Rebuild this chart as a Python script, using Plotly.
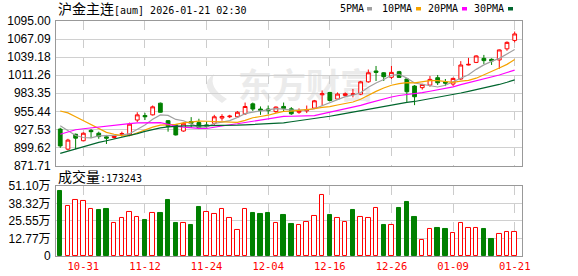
import plotly.graph_objects as go

dates = ["2025-10-28", "2025-10-29", "2025-10-30", "2025-10-31", "2025-11-03", "2025-11-04",
         "2025-11-05", "2025-11-06", "2025-11-07", "2025-11-10", "2025-11-11", "2025-11-12",
         "2025-11-13", "2025-11-14", "2025-11-17", "2025-11-18", "2025-11-19", "2025-11-20",
         "2025-11-21", "2025-11-24", "2025-11-25", "2025-11-26", "2025-11-27", "2025-11-28",
         "2025-12-01", "2025-12-02", "2025-12-03", "2025-12-04", "2025-12-05", "2025-12-08",
         "2025-12-09", "2025-12-10", "2025-12-11", "2025-12-12", "2025-12-15", "2025-12-16",
         "2025-12-17", "2025-12-18", "2025-12-19", "2025-12-22", "2025-12-23", "2025-12-24",
         "2025-12-25", "2025-12-26", "2025-12-29", "2025-12-30", "2025-12-31", "2026-01-05",
         "2026-01-06", "2026-01-07", "2026-01-08", "2026-01-09", "2026-01-12", "2026-01-13",
         "2026-01-14", "2026-01-15", "2026-01-16", "2026-01-19", "2026-01-20", "2026-01-21"]

opens = [928, 897, 920, 910, 926, 921.6, 916, 915, 920, 919,
         942, 949, 950, 968, 941, 934.5, 925, 939.6, 938, 934.5,
         937, 945, 947, 947, 951.6, 967, 959, 959, 955, 963,
         959.3, 954, 956.2, 960.4, 981, 984.6, 974.4, 980, 981.5, 982,
         1001, 1017.8, 1015, 1008, 1016.7, 1005.4, 994.5, 992, 996, 1007.4,
         1001, 997.6, 1005.4, 1027, 1031, 1037.3, 1035.8, 1034.8, 1052, 1065]
highs = [930, 913, 921, 923, 928, 924, 919, 918, 924, 938,
         954, 953, 964.5, 969, 942, 936, 938, 946.5, 944, 939.6,
         950, 951, 950, 956, 969, 969, 963, 964.4, 963, 969,
         962, 960, 964.4, 973, 987.7, 985.5, 984.6, 984.6, 990, 1002.5,
         1020, 1025.5, 1016, 1025.5, 1018, 1006, 996, 998, 1010, 1011.6,
         1005.4, 1007.5, 1033, 1038, 1042, 1042.6, 1037.3, 1051, 1063.5, 1078.7]
lows = [899, 895, 897, 909, 914, 913, 905, 913, 916.4, 917,
        939, 942, 949, 953.5, 924, 918, 924, 930, 928, 928.3,
        934.5, 941, 945, 946, 950, 956, 950, 951, 953, 955,
        950, 951.6, 952.7, 959, 964.4, 971, 973, 978, 977, 980.5,
        999.6, 1002.3, 1002.3, 1005.4, 1007, 970, 965, 989, 993.4, 996.1,
        994.5, 994.5, 1004, 1026.5, 1030, 1028.6, 1027.1, 1021, 1049, 1062]
closes = [902, 911, 914, 921.6, 924, 916.4, 914, 917.5, 921, 935.6,
          950, 947, 962.4, 954, 932, 919, 937, 937, 930, 932.5,
          947, 947.5, 948, 954, 962.9, 959, 957, 956.5, 962, 960,
          951.6, 956, 957.8, 971.7, 982.6, 972.2, 982.1, 982.6, 982.3, 1001,
          1015, 1015.6, 1009, 1015.6, 1007.9, 985.7, 978, 997, 1004.8, 999.6,
          999, 1006.3, 1027, 1028, 1041, 1033.8, 1033.3, 1050.3, 1062, 1075]

# volume in 万 (10k lots)
volumes_wan = [47.5, 36.4, 41.2, 39.8, 34.0, 33.5, 34.2, 24.1, 27.5, 31.8,
               28.2, 26.3, 31.3, 31.3, 40.7, 24.3, 24.1, 22.7, 35.7, 31.8,
               30.6, 34.0, 27.5, 18.8, 34.0, 31.3, 30.8, 31.3, 24.1, 29.9,
               23.6, 22.4, 24.6, 28.9, 44.3, 29.9, 27.5, 24.6, 33.5, 28.2,
               27.5, 35.4, 22.7, 22.7, 34.9, 39.3, 28.4, 11.8, 19.5, 20.5,
               19.8, 16.9, 24.1, 20.2, 20.2, 19.8, 12.5, 16.1, 17.6, 17.3243]
# 1 = up (red hollow), 0 = down (green)
vol_up = [0, 1, 1, 1, 1, 0, 0, 1, 1, 1,
          1, 0, 1, 0, 0, 0, 1, 0, 0, 1,
          1, 1, 1, 1, 1, 0, 0, 0, 1, 0,
          0, 1, 1, 1, 1, 0, 1, 1, 0, 1,
          1, 1, 0, 1, 0, 0, 0, 1, 1, 0,
          0, 1, 1, 1, 1, 0, 0, 1, 1, 1]

# MA values before enough in-window closes exist
ma5_head = [933, 926, 918, 915]
ma10_head = [956, 953, 947, 941, 934, 928, 923, 920, 918]
ma20_head = [920, 924, 927, 928.5, 930, 931, 932.5, 933.5, 935, 936.5,
             937.5, 938, 938.5, 938, 935.5, 932.5, 931, 929.5, 929]
ma30_head = [890.5, 894, 898, 901.5, 904.5, 907.5, 910, 912.5, 915, 917.5,
             921, 924.5, 927.5, 930, 931.5, 932.5, 933, 933, 933, 933,
             933.5, 933.5, 934, 934, 934.5, 935, 935.5, 936, 937]

price_ticks = [871.71, 899.62, 927.53, 955.44, 983.35, 1011.26, 1039.18, 1067.09, 1095.00]
price_tick_text = ["871.71", "899.62", "927.53", "955.44", "983.35", "1011.26", "1039.18", "1067.09", "1095.00"]
vol_ticks = [0, 127750, 255500, 383250, 511000]
vol_tick_text = ["0", "12.77万", "25.55万", "38.32万", "51.10万"]
tick_dates = ["2025-10-31", "2025-11-12", "2025-11-24", "2025-12-04",
              "2025-12-16", "2025-12-26", "2026-01-09", "2026-01-21"]
tick_labels = ["10-31", "11-12", "11-24", "12-04", "12-16", "12-26", "01-09", "01-21"]

title_cjk = "沪金主连"
title_rest = "[aum] 2026-01-21 02:30"
vol_label_cjk = "成交量"
vol_label_rest = ":173243"
ma_names = ["5PMA", "10PMA", "20PMA", "30PMA"]


def moving_avg(head, n):
    out = list(head)
    for i in range(len(head), len(closes)):
        out.append(sum(closes[i - n + 1:i + 1]) / n)
    return out


ma_series = [moving_avg(ma5_head, 5), moving_avg(ma10_head, 10),
             moving_avg(ma20_head, 20), moving_avg(ma30_head, 30)]
ma_colors = ["#a0a0a0", "#f5a300", "#ff00ff", "#00662e"]

RED = "#ff0000"
GREEN = "#008000"
MONO = "DejaVu Sans Mono, Noto Sans CJK SC"

W, H = 578, 276
ML, MR, MT, MB = 56, 56, 21, 20
PW, PH = W - ML - MR, H - MT - MB


def px_x(px):
    return (px - ML) / PW


def px_y(py):
    return (H - MB - py) / PH


fig = go.Figure()

fig.add_trace(go.Candlestick(
    x=dates, open=opens, high=highs, low=lows, close=closes,
    increasing=dict(line=dict(color=RED, width=1), fillcolor="#ffffff"),
    decreasing=dict(line=dict(color=GREEN, width=1), fillcolor=GREEN),
    whiskerwidth=0, xaxis="x", yaxis="y", showlegend=False, hoverinfo="skip"))

for vals, col in zip(ma_series, ma_colors):
    fig.add_trace(go.Scatter(x=dates, y=vals, mode="lines",
                             line=dict(color=col, width=1.2),
                             xaxis="x", yaxis="y", showlegend=False, hoverinfo="skip"))

fig.add_trace(go.Bar(
    x=dates, y=[v * 10000 for v in volumes_wan],
    marker=dict(color=["#ffffff" if u else GREEN for u in vol_up],
                line=dict(color=[RED if u else GREEN for u in vol_up], width=1)),
    width=0.58, xaxis="x2", yaxis="y2", showlegend=False, hoverinfo="skip"))

xrange = [-0.55, 59.95]
axis_common = dict(showline=True, mirror=True, linecolor="#999999", linewidth=1,
                   zeroline=False, automargin=False)
fig.update_layout(
    template="none",
    width=W, height=H, autosize=False,
    margin=dict(l=ML, r=MR, t=MT, b=MB, pad=0),
    paper_bgcolor="#ffffff", plot_bgcolor="#ffffff",
    bargap=0,
    xaxis=dict(domain=[0, 1], type="category", range=xrange, anchor="y",
               tickvals=tick_dates, showticklabels=False, ticks="",
               showgrid=True, gridcolor="#cccccc", griddash="dash", gridwidth=1,
               rangeslider=dict(visible=False), **axis_common),
    yaxis=dict(domain=[0.385, 1], range=[871.71, 1095.0], anchor="x",
               tickvals=price_ticks, ticktext=price_tick_text,
               ticks="outside", ticklen=2, tickcolor="rgba(0,0,0,0)",
               showgrid=True, gridcolor="#d0d0d0", gridwidth=1,
               tickfont=dict(family="Liberation Sans, Arial", size=12, color="#000000"),
               **axis_common),
    xaxis2=dict(domain=[0, 1], type="category", range=xrange, anchor="y2",
                tickvals=tick_dates, ticktext=tick_labels, ticks="",
                showgrid=True, gridcolor="#cccccc", griddash="dash", gridwidth=1,
                tickfont=dict(family=MONO, size=10.5, color=RED),
                **axis_common),
    yaxis2=dict(domain=[0, 0.298], range=[0, 511000], anchor="x2",
                tickvals=vol_ticks, ticktext=vol_tick_text,
                ticks="outside", ticklen=2, tickcolor="rgba(0,0,0,0)",
                showgrid=True, gridcolor="#d0d0d0", gridwidth=1,
                tickfont=dict(family="Liberation Sans, Noto Sans CJK SC", size=12, color="#000000"),
                **axis_common),
)

annotations = [
    dict(text='<span style="font-size:14px">' + title_cjk + '</span>' + title_rest,
         x=px_x(56), y=px_y(9), xref="paper", yref="paper", xanchor="left", yanchor="middle",
         showarrow=False, font=dict(family=MONO, size=10, color="#000000")),
    dict(text='<span style="font-size:14px">' + vol_label_cjk + '</span>' + vol_label_rest,
         x=px_x(56), y=px_y(177), xref="paper", yref="paper", xanchor="left", yanchor="middle",
         showarrow=False, font=dict(family=MONO, size=10, color="#000000")),
]
leg_text_x = [338, 380, 426, 472]
leg_sq_x = [367, 416, 462, 508]
for name, col, tx, sx in zip(ma_names, ma_colors, leg_text_x, leg_sq_x):
    annotations.append(dict(text=name, x=px_x(tx), y=px_y(9), xref="paper", yref="paper",
                            xanchor="left", yanchor="middle", showarrow=False,
                            font=dict(family=MONO, size=10, color="#000000")))
fig.update_layout(annotations=annotations)

shapes = []
for col, sx in zip(ma_colors, leg_sq_x):
    shapes.append(dict(type="rect", xref="paper", yref="paper",
                       x0=px_x(sx), x1=px_x(sx + 5), y0=px_y(10.5), y1=px_y(7),
                       fillcolor=col, line=dict(width=0)))
# watermark
shapes.append(dict(type="rect", xref="paper", yref="paper", layer="below",
                   x0=px_x(232), x1=px_x(380), y0=px_y(104), y1=px_y(72),
                   fillcolor="rgba(0,0,0,0)", line=dict(width=0),
                   label=dict(text="东方财富", font=dict(family="Noto Sans CJK SC", size=34, color="#ebebeb", weight="bold"),
                              textposition="middle center")))
shapes.append(dict(type="path", xref="paper", yref="paper", layer="below",
                   path=("M {a},{b} Q {c},{d} {e},{f} L {g},{h} Q {i},{j} {a},{b} Z").format(
                       a=px_x(214), b=px_y(74), c=px_x(196), d=px_y(86), e=px_x(222), f=px_y(103),
                       g=px_x(227), h=px_y(99), i=px_x(208), j=px_y(88)),
                   fillcolor="#ebebeb", line=dict(width=0)))
fig.update_layout(shapes=shapes)

fig.write_html("out.html")
